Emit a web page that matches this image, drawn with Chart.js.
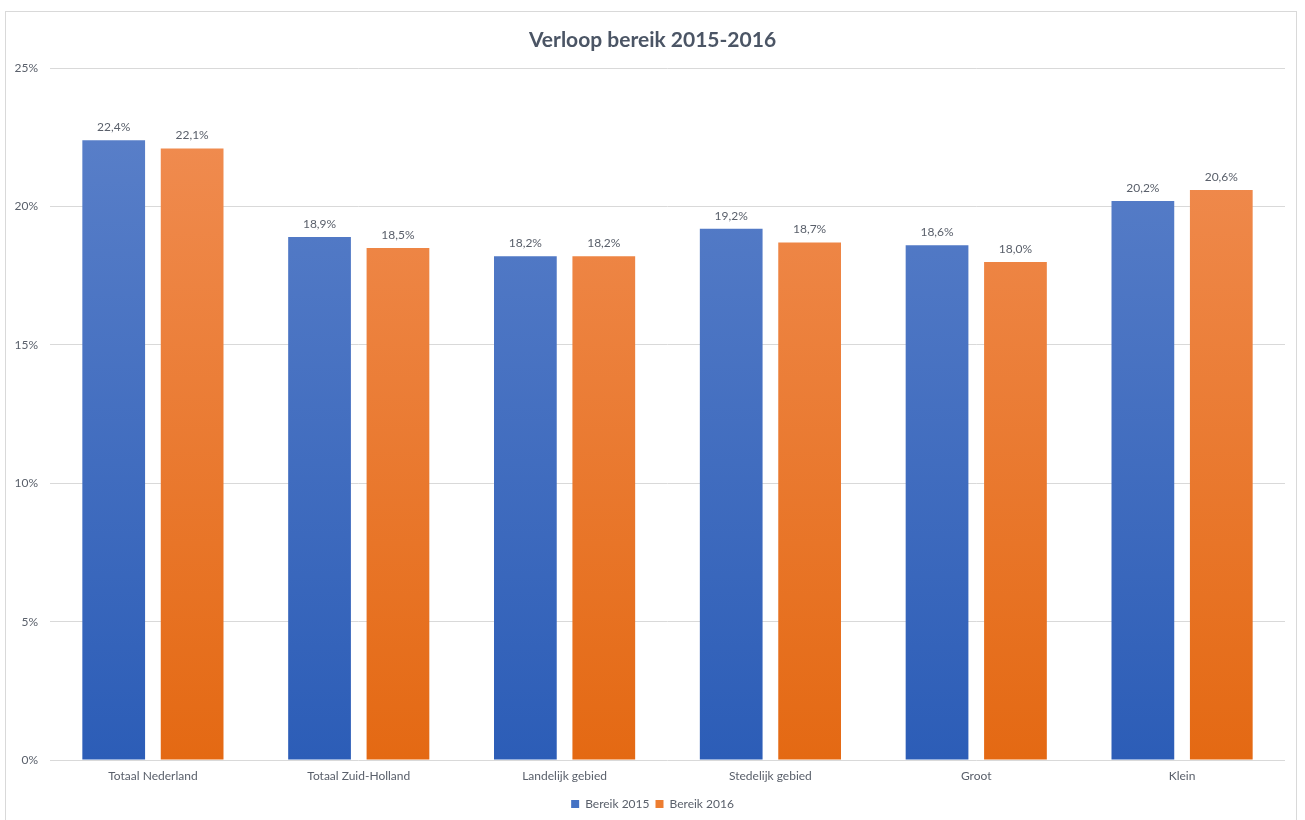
<!DOCTYPE html>
<html><head><meta charset="utf-8">
<script src="https://cdn.jsdelivr.net/npm/chart.js@4.4.1/dist/chart.umd.min.js"></script>
<style>
html,body{margin:0;padding:0;background:#fff;}
#wrap{position:absolute;left:0;top:0;width:1305px;height:820px;}
#frame{position:absolute;left:5px;top:11px;width:1292px;height:830px;border:1px solid #d9d9d9;box-sizing:border-box;}
canvas{position:absolute;left:0;top:0;}
</style></head>
<body>
<div id="wrap"><div id="frame"></div><canvas id="c" width="1305" height="820"></canvas></div>
<script>
const categories = ["Totaal Nederland","Totaal Zuid-Holland","Landelijk gebied","Stedelijk gebied","Groot","Klein"];
const bereik2015 = [22.4, 18.9, 18.2, 19.2, 18.6, 20.2];
const bereik2016 = [22.1, 18.5, 18.2, 18.7, 18.0, 20.6];
const seriesNames = ["Bereik 2015","Bereik 2016"];
const yTicks = [0,5,10,15,20,25];

const FONT = "Lato, 'Open Sans', sans-serif";
const TXT = "#5a606b";

function grad(ctx, top, bottom, solid){
  const chart = ctx.chart;
  const a = chart.chartArea;
  if(!a) return solid;
  const g = chart.ctx.createLinearGradient(0, a.top, 0, a.bottom);
  g.addColorStop(0, top);
  g.addColorStop(1, bottom);
  return g;
}

const labelPlugin = {
  id:'valueLabels',
  afterDatasetsDraw(chart){
    const c = chart.ctx;
    c.save();
    c.font = "12px " + FONT;
    c.fillStyle = TXT;
    c.textAlign = 'center';
    c.textBaseline = 'bottom';
    chart.data.datasets.forEach((ds, i) => {
      const meta = chart.getDatasetMeta(i);
      meta.data.forEach((bar, j) => {
        const v = ds.data[j];
        c.fillText(v.toFixed(1).replace('.', ',') + '%', bar.x, bar.y - 7);
      });
    });
    c.restore();
  }
};

new Chart(document.getElementById('c'), {
  type:'bar',
  data:{
    labels: categories,
    datasets:[
      {label: seriesNames[0], data: bereik2015,
       backgroundColor: ctx => grad(ctx, '#5d82ca', '#2c5db7', '#4472c4')},
      {label: seriesNames[1], data: bereik2016,
       backgroundColor: ctx => grad(ctx, '#f18f56', '#e46913', '#ed7d31')}
    ]
  },
  options:{
    responsive:false,
    animation:false,
    layout:{padding:{left:0,right:0,top:0,bottom:0}},
    datasets:{bar:{categoryPercentage:0.762, barPercentage:0.80}},
    plugins:{
      title:{display:true, text:'Verloop bereik 2015-2016', color:'#4b5565',
        font:{family:FONT, size:21, weight:'bold'}, padding:{top:28, bottom:15}},
      legend:{position:'bottom', labels:{boxWidth:8, boxHeight:8, color:TXT,
        font:{family:FONT, size:12}, padding:6,
        generateLabels(chart){
          const cols = ['#4472c4','#ed7d31'];
          return chart.data.datasets.map((d,i)=>({text:d.label, fillStyle:cols[i], strokeStyle:cols[i], lineWidth:0, datasetIndex:i, fontColor:TXT}));
        }}},
      tooltip:{enabled:false}
    },
    scales:{
      x:{grid:{display:false}, border:{display:false},
        ticks:{color:TXT, font:{family:FONT, size:12}, padding:1, maxRotation:0},
        afterFit(s){ s.height = 32; }},
      y:{min:0, max:25, afterBuildTicks(s){ s.ticks = yTicks.map(v=>({value:v})); },
        grid:{color:'#d9d9d9', drawTicks:false}, border:{display:false},
        ticks:{color:TXT, font:{family:FONT, size:12}, padding:12, callback:v=>v+'%'},
        afterFit(s){ s.width = 50; }},
      yRight:{position:'right', display:true, min:0, max:25,
        grid:{display:false}, border:{display:false}, ticks:{display:false},
        afterFit(s){ s.width = 20; }}
    }
  },
  plugins:[labelPlugin]
});
</script>
</body></html>
